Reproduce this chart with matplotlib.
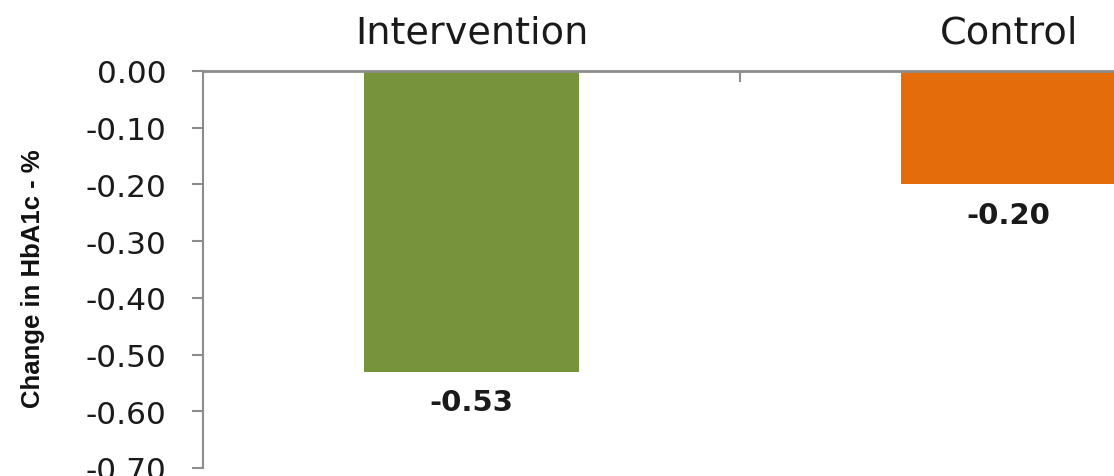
#change in HbA1c, intervention vs control
import matplotlib
matplotlib.use("Agg")
import matplotlib.pyplot as plt
from matplotlib.ticker import FixedLocator

#data
groups = ["Intervention", "Control"]
change = [-0.53, -0.20]
bar_colors = ["#77933C", "#E46C0A"]
y_ticks = [0.0, -0.1, -0.2, -0.3, -0.4, -0.5, -0.6, -0.7]

plt.rcParams["font.family"] = ["DejaVu Sans"]

fig = plt.figure(figsize=(11.14, 4.77), dpi=100)
ax = fig.add_axes([0.1822, 0.0168, 0.8178, 0.8323])

x = list(range(len(groups)))
bars = ax.bar(x, change, width=0.4, color=bar_colors, zorder=2)

#value labels under each bar
for b, v in zip(bars, change):
    ax.annotate(f"{v:.2f}", (b.get_x() + b.get_width() / 2, v),
                xytext=(0, -12), textcoords="offset points",
                ha="center", va="top", fontsize=21, fontweight="bold", color="#1a1a1a")

ax.set_ylim(-0.70, 0)
ax.set_xlim(-0.5, 1.196)
ax.set_yticks(y_ticks)
ax.set_yticklabels([f"{t:.2f}" if t != 0 else "0.00" for t in y_ticks])

#categories on top, zero line is the top spine
ax.xaxis.tick_top()
ax.set_xticks(x)
ax.set_xticklabels(groups, fontsize=27.5, color="#1a1a1a")
ax.tick_params(axis="x", which="major", length=0, pad=15)
ax.xaxis.set_minor_locator(FixedLocator([0.5]))
ax.tick_params(axis="x", which="minor", direction="in", length=8, width=1.5, color="#8c8c8c")

ax.tick_params(axis="y", length=8, width=1.5, color="#8c8c8c", pad=18,
               labelsize=22.5, labelcolor="#1a1a1a")

for s in ["right", "bottom"]:
    ax.spines[s].set_visible(False)
ax.spines["top"].set_color("#8c8c8c")
ax.spines["top"].set_linewidth(2)
ax.spines["left"].set_color("#8c8c8c")
ax.spines["left"].set_linewidth(1.5)

ax.set_ylabel("Change in HbA1c - %", fontsize=18.5, fontweight="bold", color="#111111",
              family=["Liberation Sans", "DejaVu Sans"])
ax.yaxis.set_label_coords(-0.173, 0.479)

fig.savefig("out.png", dpi=100)
